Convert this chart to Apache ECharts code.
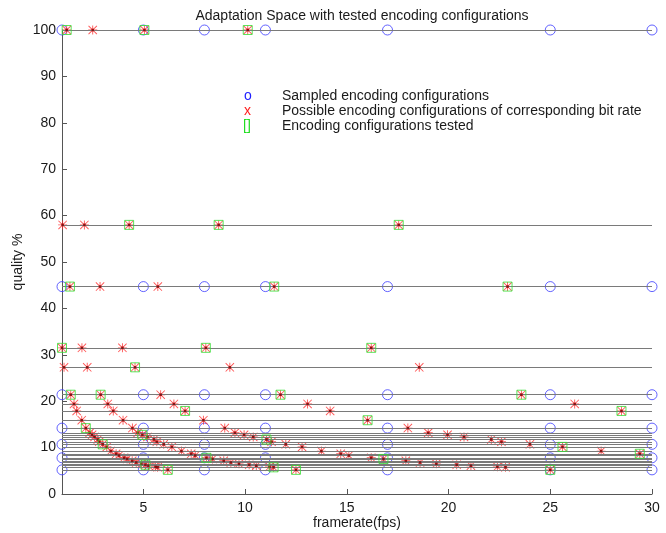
<!DOCTYPE html>
<html>
<head>
<meta charset="utf-8">
<title>Adaptation Space</title>
<script src="https://cdn.jsdelivr.net/npm/echarts@6/dist/echarts.min.js"></script>
<style>
  html, body { margin: 0; padding: 0; background: #ffffff; }
  #chart { width: 666px; height: 533px; }
</style>
</head>
<body>
<div id="chart"></div>
<script>
// Sampled grid: frame rates x quality levels
const sampledRates = [1, 5, 8, 11, 17, 25, 30];
const sampledQualities = [100, 44.7, 21.4, 14.2, 10.7, 7.8, 5.2];

// Quality levels that carry candidate configurations (one horizontal line each)
const qualityLevels = [
  100, 58, 44.7, 31.5, 27.3, 21.4, 19.4, 17.9, 15.9,
  14.2, 13.2, 12.75, 12.3, 11.75, 11.25, 10.7, 10.15, 9.25, 8.67,
  8.3, 7.8, 7.55, 7.15, 6.8, 6.5, 6.3, 6.1, 5.85, 5.75, 5.2
];

// Frame rates of the possible configurations on each quality level
const possibleRates = [
  [1.23, 2.51, 5.05, 10.13],
  [1.03, 2.1, 4.3, 8.7, 17.55],
  [1.39, 2.87, 5.71, 11.43, 22.9],
  [1.0, 1.98, 3.97, 8.07, 16.2],
  [1.1, 2.24, 4.59, 9.25, 18.56],
  [1.43, 2.9, 5.85, 11.74, 23.58],
  [1.59, 3.25, 6.5, 13.07, 26.2],
  [1.72, 3.52, 7.05, 14.18, 28.5],
  [1.97, 4.0, 7.95, 16.02],
  [2.17, 4.46, 9.0, 18.0],
  [2.36, 4.72, 9.5, 19.0],
  [2.48, 4.95, 9.95, 19.95],
  [2.6, 5.2, 10.4, 20.76],
  [2.76, 5.52, 11.05, 22.1],
  [2.83, 5.66, 11.3, 22.6],
  [3.0, 6.0, 12.0, 24.0],
  [3.2, 6.4, 12.8, 25.6],
  [3.4, 6.87, 13.75, 27.5],
  [3.66, 7.35, 14.7, 29.4],
  [3.8, 7.55, 15.1],
  [4.05, 8.1, 16.2],
  [4.2, 8.4, 16.8],
  [4.45, 8.95, 17.9],
  [4.65, 9.3, 18.6],
  [4.9, 9.7, 19.4],
  [5.1, 10.2, 20.4],
  [5.25, 10.55, 21.1],
  [5.6, 11.2, 22.4],
  [5.7, 11.4, 22.8],
  [6.2, 12.5, 25.0]
];

// Configurations actually tested: [frame rate, quality]
const testedConfigs = [
  [1.23, 100], [5.05, 100], [10.13, 100],
  [4.3, 58], [8.7, 58], [17.55, 58],
  [1.39, 44.7], [11.43, 44.7], [22.9, 44.7],
  [1.0, 31.5], [8.07, 31.5], [16.2, 31.5],
  [4.59, 27.3],
  [1.43, 21.4], [2.9, 21.4], [11.74, 21.4], [23.58, 21.4],
  [7.05, 17.9], [28.5, 17.9],
  [16.02, 15.9],
  [2.17, 14.2],
  [4.95, 12.75],
  [11.05, 11.75],
  [3.0, 10.7],
  [25.6, 10.15],
  [29.4, 8.67],
  [8.1, 7.8],
  [16.8, 7.55],
  [5.1, 6.3],
  [11.4, 5.75],
  [6.2, 5.2], [12.5, 5.2], [25.0, 5.2]
];

const xTickValues = [5, 10, 15, 20, 25, 30];

const legendLabels = [
  'Sampled encoding configurations',
  'Possible encoding configurations of corresponding bit rate',
  'Encoding configurations tested'
];

// ---- derived series data ----
const sampledData = [];
sampledQualities.forEach(q => sampledRates.forEach(f => sampledData.push([f, q])));

const possibleData = [];
possibleRates.forEach((rates, i) => rates.forEach(f => possibleData.push([f, qualityLevels[i]])));

const FONT = '"Liberation Sans", Arial, Helvetica, sans-serif';
const TEXT = '#1a1a1a';
const AXIS = '#555555';

const asterisk = 'path://M0,9H20V11H0Z M9,0H11V20H9Z M1.4,0L20,18.6L18.6,20L0,1.4Z M18.6,0L20,1.4L1.4,20L0,18.6Z';

const chart = echarts.init(document.getElementById('chart'), null, { renderer: 'canvas' });

chart.setOption({
  animation: false,
  backgroundColor: '#ffffff',
  title: {
    text: 'Adaptation Space with tested encoding configurations',
    left: 357,
    textAlign: 'center',
    top: 4,
    textStyle: { fontFamily: FONT, fontSize: 14, fontWeight: 'normal', color: TEXT }
  },
  grid: { left: 62, right: 14, top: 30, bottom: 39, containLabel: false, outerBoundsMode: 'none' },
  xAxis: {
    type: 'value',
    min: 1,
    max: 30,
    name: 'framerate(fps)',
    nameLocation: 'middle',
    nameGap: 22,
    nameMoveOverlap: false,
    nameTextStyle: { fontFamily: FONT, fontSize: 14, color: TEXT },
    axisLine: { show: true, lineStyle: { color: AXIS, width: 1 } },
    axisTick: { show: true, inside: true, length: 5, customValues: xTickValues, lineStyle: { color: AXIS } },
    axisLabel: { customValues: xTickValues, margin: 7, fontFamily: FONT, fontSize: 14, color: TEXT },
    splitLine: { show: false }
  },
  yAxis: {
    type: 'value',
    min: 0,
    max: 100,
    interval: 10,
    name: 'quality %',
    nameLocation: 'middle',
    nameGap: 37,
    nameMoveOverlap: false,
    nameTextStyle: { fontFamily: FONT, fontSize: 14, color: TEXT },
    axisLine: { show: true, lineStyle: { color: AXIS, width: 1 } },
    axisTick: { show: true, inside: true, length: 5, lineStyle: { color: AXIS } },
    axisLabel: { margin: 6, fontFamily: FONT, fontSize: 14, color: TEXT },
    splitLine: { show: false }
  },
  series: [
    {
      name: 'levels',
      type: 'scatter',
      data: [],
      silent: true,
      markLine: {
        silent: true,
        symbol: ['none', 'none'],
        label: { show: false },
        lineStyle: { color: '#7a7a7a', width: 1, type: 'solid' },
        data: qualityLevels.map(q => ({ yAxis: q }))
      }
    },
    {
      name: legendLabels[0],
      type: 'scatter',
      clip: false,
      symbol: 'circle',
      symbolSize: 10,
      itemStyle: { color: 'rgba(0,0,0,0)', borderColor: '#3c3cff', borderWidth: 1 },
      data: sampledData,
      z: 3
    },
    {
      name: legendLabels[1],
      type: 'scatter',
      clip: false,
      symbol: asterisk,
      symbolSize: 9,
      itemStyle: { color: '#ff2a2a' },
      data: possibleData,
      z: 4
    },
    {
      name: 'centres',
      type: 'scatter',
      clip: false,
      symbol: 'rect',
      symbolSize: 2.5,
      itemStyle: { color: '#7a0000' },
      data: possibleData,
      z: 5
    },
    {
      name: legendLabels[2],
      type: 'scatter',
      clip: false,
      symbol: 'rect',
      symbolSize: 9,
      itemStyle: { color: 'rgba(0,0,0,0)', borderColor: '#33e033', borderWidth: 1 },
      data: testedConfigs,
      z: 6
    }
  ],
  graphic: [
    { type: 'text', left: 244, top: 89, style: { text: 'o', fill: '#2020ff', font: '14px ' + FONT } },
    { type: 'text', left: 244, top: 104, style: { text: 'x', fill: '#ff2020', font: '14px ' + FONT } },
    { type: 'text', left: 243, top: 119, style: { text: '[]', fill: '#22dd22', font: '14px ' + FONT } },
    { type: 'text', left: 282, top: 89, style: { text: legendLabels[0], fill: TEXT, font: '14px ' + FONT } },
    { type: 'text', left: 282, top: 104, style: { text: legendLabels[1], fill: TEXT, font: '14px ' + FONT } },
    { type: 'text', left: 282, top: 119, style: { text: legendLabels[2], fill: TEXT, font: '14px ' + FONT } }
  ]
});
</script>
</body>
</html>
